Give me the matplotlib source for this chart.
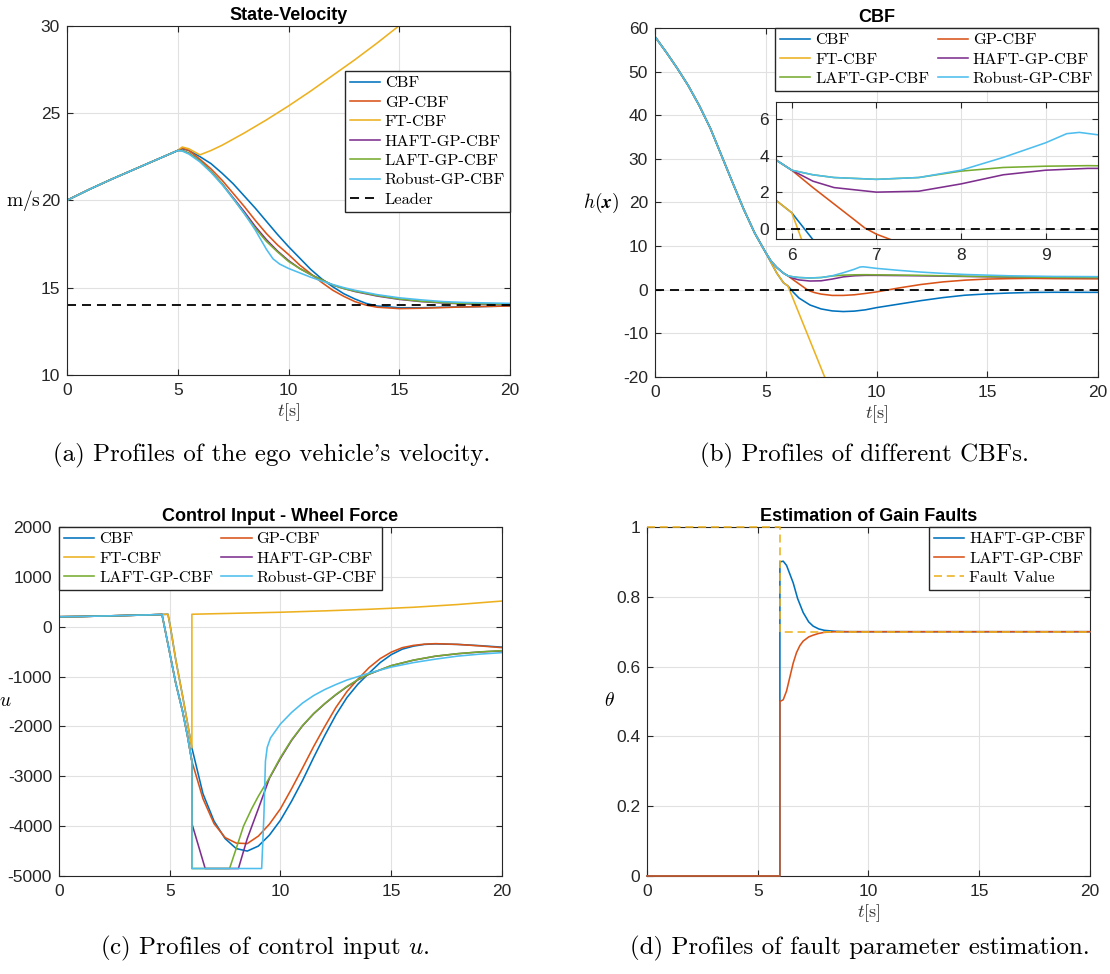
import matplotlib
matplotlib.use('Agg')
import matplotlib.pyplot as plt

plt.rcParams['font.family'] = ['Liberation Sans', 'DejaVu Sans']
plt.rcParams['mathtext.fontset'] = 'cm'
plt.rcParams['axes.unicode_minus'] = False

# MATLAB default colours
C_BLUE = '#0072BD'
C_RED = '#D95319'
C_YEL = '#EDB120'
C_PUR = '#7E2F8E'
C_GRN = '#77AC30'
C_CYA = '#4DBEEE'

names = ['CBF', 'GP-CBF', 'FT-CBF', 'HAFT-GP-CBF', 'LAFT-GP-CBF', 'Robust-GP-CBF']
colors = [C_BLUE, C_RED, C_YEL, C_PUR, C_GRN, C_CYA]

# ---------------- (a) velocity ----------------
vel_rise_t = [0, 1, 2, 3, 4, 5]
vel_rise = [20, 20.62, 21.2, 21.75, 22.3, 22.85]

vel_cbf_t = [5.2, 5.5, 6, 6.5, 7, 7.5, 8, 8.5, 9, 9.5, 10, 10.5, 11, 11.5, 12, 12.5, 13, 13.5, 14, 15, 16, 17, 18, 20]
vel_cbf = [22.95, 22.85, 22.5, 22.1, 21.55, 20.95, 20.25, 19.55, 18.8, 18.05, 17.35, 16.7, 16.05, 15.5, 15.05, 14.65, 14.35, 14.1, 13.95, 13.85, 13.85, 13.88, 13.9, 13.95]
vel_gp_t = [5.2, 5.5, 6, 6.5, 7, 7.5, 8, 8.5, 9, 9.5, 10, 10.5, 11, 11.5, 12, 12.5, 13, 13.5, 14, 15, 16, 17, 18, 20]
vel_gp = [23.0, 22.85, 22.35, 21.8, 21.15, 20.4, 19.65, 18.85, 18.1, 17.45, 16.9, 16.3, 15.8, 15.3, 14.85, 14.5, 14.2, 14.0, 13.88, 13.8, 13.82, 13.86, 13.9, 13.95]
vel_ft_t = [5.2, 5.5, 6, 6.5, 7, 8, 9, 10, 11, 12, 13, 14, 15]
vel_ft = [23.05, 22.95, 22.6, 22.85, 23.15, 23.85, 24.6, 25.4, 26.25, 27.15, 28.05, 29.0, 30.0]
vel_haft_t = [5.2, 5.5, 6, 6.5, 7, 7.5, 8, 8.5, 9, 9.5, 10, 10.5, 11, 11.5, 12, 12.5, 13, 14, 15, 16, 17, 18, 20]
vel_haft = [22.85, 22.7, 22.25, 21.65, 20.95, 20.15, 19.35, 18.5, 17.75, 17.1, 16.55, 16.1, 15.75, 15.45, 15.15, 14.95, 14.78, 14.52, 14.33, 14.2, 14.12, 14.07, 14.03]
vel_laft_t = [5.2, 5.5, 6, 6.5, 7, 7.5, 8, 8.5, 9, 9.5, 10, 10.5, 11, 11.5, 12, 12.5, 13, 14, 15, 16, 17, 18, 20]
vel_laft = [22.85, 22.7, 22.25, 21.65, 20.95, 20.1, 19.25, 18.4, 17.65, 17.05, 16.5, 16.1, 15.75, 15.45, 15.15, 14.95, 14.8, 14.55, 14.35, 14.22, 14.14, 14.09, 14.05]
vel_rob_t = [5.2, 5.5, 6, 6.5, 7, 7.5, 8, 8.5, 9, 9.3, 9.6, 10, 10.5, 11, 11.5, 12, 12.5, 13, 14, 15, 16, 17, 18, 20]
vel_rob = [22.82, 22.65, 22.2, 21.6, 20.9, 20.1, 19.25, 18.3, 17.2, 16.65, 16.35, 16.1, 15.85, 15.6, 15.38, 15.18, 15.0, 14.85, 14.6, 14.42, 14.3, 14.2, 14.15, 14.1]
leader_speed = 14

# ---------------- (b) CBF ----------------
h_fall_t = [0, 0.5, 1, 1.5, 2, 2.5, 3, 3.5, 4, 4.5, 5]
h_fall = [58, 54.5, 50.8, 46.8, 42.2, 37.0, 30.8, 24.6, 18.5, 13.0, 8.5]
h_split_a_t = [5.25, 5.5, 5.8, 6]          # shared by GP/HAFT/LAFT/Robust
h_split_a = [6.5, 5.1, 3.8, 3.2]
h_split_b_t = [5.2, 5.5, 5.8, 6]           # shared by CBF/FT
h_split_b = [6.6, 3.8, 1.6, 0.87]

h_cbf_t = [6.25, 6.5, 7, 7.5, 8, 8.5, 9, 9.5, 10, 11, 12, 13, 14, 15, 16, 17, 18, 20]
h_cbf = [-0.6, -1.9, -3.5, -4.4, -4.85, -5.0, -4.9, -4.6, -4.1, -3.3, -2.5, -1.8, -1.25, -0.95, -0.75, -0.62, -0.58, -0.6]
h_gp_t = [6.25, 6.5, 6.75, 6.86, 7.0, 7.2, 7.5, 8, 8.5, 9, 9.5, 10, 10.5, 11, 12, 13, 14, 15, 16, 17, 18, 20]
h_gp = [2.25, 1.35, 0.45, 0.05, -0.3, -0.65, -1.0, -1.3, -1.3, -1.15, -0.85, -0.5, -0.05, 0.4, 1.2, 1.8, 2.2, 2.45, 2.55, 2.6, 2.55, 2.5]
h_ft_t = [7.7]
h_ft = [-20.5]
h_haft_t = [6.25, 6.5, 7, 7.5, 8, 8.5, 9, 9.5, 10, 11, 12, 14, 16, 18, 20]
h_haft = [2.6, 2.25, 2.0, 2.05, 2.45, 2.95, 3.2, 3.3, 3.3, 3.25, 3.2, 3.05, 2.9, 2.85, 2.8]
h_laft_t = [6.25, 6.5, 7, 7.5, 8, 8.5, 9, 9.5, 10, 12, 14, 16, 18, 20]
h_laft = [2.95, 2.8, 2.7, 2.8, 3.15, 3.35, 3.42, 3.45, 3.42, 3.3, 3.1, 2.95, 2.85, 2.8]
h_rob_t = [6.25, 6.5, 7, 7.5, 8, 8.5, 9, 9.25, 9.4, 9.6, 10, 11, 12, 13, 14, 15, 16, 18, 20]
h_rob = [2.95, 2.8, 2.7, 2.8, 3.2, 3.9, 4.7, 5.2, 5.27, 5.15, 4.9, 4.45, 4.05, 3.75, 3.5, 3.35, 3.2, 3.05, 3.0]

# ---------------- (c) control input ----------------
u_pre_t = [0, 1, 2, 3, 4, 4.65]
u_pre = [200, 205, 215, 225, 237, 245]
u_drop_a_t = [4.82, 4.97, 5.27, 5.58, 5.8, 6.0]      # early braking group
u_drop_a = [-130, -460, -1130, -1700, -2190, -2700]
u_drop_b_t = [4.92, 5.05, 5.27, 5.58, 5.8, 6.0]      # CBF / FT-CBF
u_drop_b = [250, -60, -660, -1390, -1930, -2430]

u_cbf_t = [6.5, 7, 7.5, 8, 8.5, 9, 9.5, 10, 10.5, 11, 11.5, 12, 12.5, 13, 13.5, 14, 14.5, 15, 15.5, 16, 16.5, 17, 18, 19, 20]
u_cbf = [-3350, -3900, -4250, -4450, -4500, -4400, -4180, -3880, -3500, -3080, -2620, -2180, -1770, -1420, -1150, -930, -720, -560, -450, -390, -355, -345, -355, -380, -410]
u_gp_t = [6.5, 7, 7.5, 8, 8.5, 9, 9.5, 10, 10.5, 11, 11.5, 12, 12.5, 13, 13.5, 14, 14.5, 15, 15.5, 16, 16.5, 17, 18, 19, 20]
u_gp = [-3450, -3950, -4230, -4340, -4350, -4200, -3960, -3650, -3250, -2830, -2400, -2000, -1620, -1300, -1050, -820, -640, -510, -420, -375, -350, -340, -355, -385, -420]
u_ft_t = [6.0, 8, 10, 12, 14, 16, 18, 20]
u_ft = [250, 270, 290, 318, 350, 390, 445, 515]
u_haft_t = [6.0, 6.3, 6.6, 8.1, 8.5, 9, 9.5, 10, 10.5, 11, 11.5, 12, 12.5, 13, 13.5, 14, 15, 16, 17, 18, 19, 20]
u_haft = [-3950, -4400, -4850, -4850, -4250, -3650, -3040, -2640, -2280, -1985, -1745, -1545, -1365, -1205, -1065, -952, -782, -672, -592, -542, -507, -485]
u_laft_t = [6.0, 7.7, 8.0, 8.33, 8.7, 9, 9.5, 10, 10.5, 11, 11.5, 12, 12.5, 13, 13.5, 14, 15, 16, 17, 18, 19, 20]
u_laft = [-4850, -4850, -4450, -4000, -3650, -3400, -3030, -2620, -2270, -1980, -1740, -1540, -1360, -1200, -1060, -950, -780, -670, -590, -540, -505, -480]
u_rob_t = [6.0, 9.15, 9.25, 9.32, 9.4, 9.55, 10, 10.5, 11, 11.5, 12, 12.5, 13, 13.5, 14, 14.5, 15, 16, 17, 18, 19, 20]
u_rob = [-4850, -4850, -3800, -2700, -2420, -2230, -1950, -1720, -1530, -1380, -1260, -1160, -1070, -1000, -930, -870, -810, -720, -650, -590, -550, -520]

# ---------------- (d) fault estimation ----------------
fault_t = [0, 6, 6, 20]
fault_val = [1, 1, 0.7, 0.7]
th_haft_t = [0, 6, 6, 6.15, 6.3, 6.45, 6.6, 6.8, 7.05, 7.3, 7.5, 7.75, 8.0, 8.5, 9, 20]
th_haft = [0, 0, 0.9, 0.902, 0.89, 0.865, 0.84, 0.795, 0.755, 0.728, 0.716, 0.708, 0.704, 0.701, 0.7, 0.7]
th_laft_t = [0, 6, 6, 6.15, 6.3, 6.45, 6.6, 6.75, 6.9, 7.05, 7.3, 7.5, 7.75, 8.0, 8.5, 9, 20]
th_laft = [0, 0, 0.5, 0.505, 0.53, 0.57, 0.61, 0.64, 0.66, 0.673, 0.685, 0.69, 0.695, 0.698, 0.7, 0.7, 0.7]

LW = 1.15
LEG = dict(prop={'family': 'cmr10', 'size': 11.8}, fancybox=False, framealpha=1,
           edgecolor='#262626', handlelength=1.85, handletextpad=0.3,
           labelspacing=0.3, borderpad=0.3, borderaxespad=0, columnspacing=0.5)


def matlab_style(ax):
    ax.grid(True, color='#e1e1e1', linewidth=0.8)
    ax.set_axisbelow(True)
    ax.tick_params(direction='in', top=True, right=True, length=4, width=0.8,
                   colors='#262626', labelsize=12.5)
    ax.tick_params(axis='x', pad=6)
    ax.tick_params(axis='y', pad=5)
    for s in ax.spines.values():
        s.set_color('#262626')
        s.set_linewidth(0.8)


def ylab(ax, text, x):
    ax.set_ylabel(text, rotation=0, fontsize=14, ha='right', va='center')
    ax.yaxis.set_label_coords(x, 0.5)


def xlab(ax):
    ax.set_xlabel(r'$t[\mathrm{s}]$', fontsize=13, va='center', color='#303030')
    ax.xaxis.set_label_coords(0.5, -0.105)


def row_major(ax, ncol):
    # matplotlib fills legend columns first; reorder so rows read left to right
    handles, labels = ax.get_legend_handles_labels()
    order = [i for c in range(ncol) for i in range(c, len(handles), ncol)]
    return [handles[i] for i in order], [labels[i] for i in order]


fig = plt.figure(figsize=(11.1, 9.74), dpi=100)
ax_a = fig.add_axes([0.06036, 0.61499, 0.39910, 0.35873])
ax_b = fig.add_axes([0.59009, 0.61294, 0.39910, 0.35832])
ax_c = fig.add_axes([0.05315, 0.10062, 0.39910, 0.35832])
ax_d = fig.add_axes([0.58288, 0.10062, 0.39910, 0.35832])

# (a)
vel_t = [vel_cbf_t, vel_gp_t, vel_ft_t, vel_haft_t, vel_laft_t, vel_rob_t]
vel_v = [vel_cbf, vel_gp, vel_ft, vel_haft, vel_laft, vel_rob]
for name, c, tt, vv in zip(names, colors, vel_t, vel_v):
    ax_a.plot(vel_rise_t + tt, vel_rise + vv, color=c, lw=LW, label=name)
ax_a.axhline(leader_speed, color='k', lw=1.3, ls=(0, (5, 3.3)), label='Leader')
ax_a.set_xlim(0, 20)
ax_a.set_ylim(10, 30)
ax_a.set_xticks([0, 5, 10, 15, 20])
ax_a.set_yticks([10, 15, 20, 25, 30])
matlab_style(ax_a)
ax_a.set_title('State-Velocity', fontweight='bold', fontsize=13, pad=4)
ylab(ax_a, r'$\mathrm{m/s}$', -0.058)
xlab(ax_a)
ax_a.legend(loc='upper right', bbox_to_anchor=(1, 0.870), **LEG)

# (b)
h_t = [h_cbf_t, h_gp_t, h_ft_t, h_haft_t, h_laft_t, h_rob_t]
h_v = [h_cbf, h_gp, h_ft, h_haft, h_laft, h_rob]
late = ['CBF', 'FT-CBF']


def draw_h(ax, with_label):
    for name, c, tt, vv in zip(names, colors, h_t, h_v):
        if name in late:
            st, sv = h_split_b_t, h_split_b
        else:
            st, sv = h_split_a_t, h_split_a
        ax.plot(h_fall_t + st + tt, h_fall + sv + vv, color=c, lw=LW,
                label=name if with_label else None)
    ax.axhline(0, color='k', lw=1.3, ls=(0, (5, 3.3)))


draw_h(ax_b, True)
ax_b.set_xlim(0, 20)
ax_b.set_ylim(-20, 60)
ax_b.set_xticks([0, 5, 10, 15, 20])
ax_b.set_yticks(range(-20, 61, 10))
matlab_style(ax_b)
ax_b.set_title('CBF', fontweight='bold', fontsize=13, pad=4)
ylab(ax_b, r'$h(\boldsymbol{x})$', -0.08)
xlab(ax_b)
hb, lb = row_major(ax_b, 2)
ax_b.legend(hb, lb, loc='upper right', bbox_to_anchor=(1, 1), ncol=2, **LEG)

axin = ax_b.inset_axes([0.2725, 0.3946, 0.7275, 0.3942])
draw_h(axin, False)
axin.set_xlim(5.81, 9.62)
axin.set_ylim(-0.58, 6.95)
axin.set_xticks([6, 7, 8, 9])
axin.set_yticks([0, 2, 4, 6])
matlab_style(axin)

# (c)
u_t = [u_cbf_t, u_gp_t, u_ft_t, u_haft_t, u_laft_t, u_rob_t]
u_v = [u_cbf, u_gp, u_ft, u_haft, u_laft, u_rob]
for name, c, tt, vv in zip(names, colors, u_t, u_v):
    if name in late:
        dt, dv = u_drop_b_t, u_drop_b
    else:
        dt, dv = u_drop_a_t, u_drop_a
    ax_c.plot(u_pre_t + dt + tt, u_pre + dv + vv, color=c, lw=LW, label=name)
ax_c.set_xlim(0, 20)
ax_c.set_ylim(-5000, 2000)
ax_c.set_xticks([0, 5, 10, 15, 20])
ax_c.set_yticks(range(-5000, 2001, 1000))
matlab_style(ax_c)
ax_c.set_title('Control Input - Wheel Force', fontweight='bold', fontsize=13, pad=4)
ylab(ax_c, r'$u$', -0.106)
hc, lc = row_major(ax_c, 2)
ax_c.legend(hc, lc, loc='upper left', bbox_to_anchor=(0, 1), ncol=2, **LEG)

# (d)
ax_d.plot(th_haft_t, th_haft, color=C_BLUE, lw=LW, label='HAFT-GP-CBF',
          clip_on=False, zorder=3)
ax_d.plot(th_laft_t, th_laft, color=C_RED, lw=LW, label='LAFT-GP-CBF',
          clip_on=False, zorder=3)
ax_d.plot(fault_t, fault_val, color=C_YEL, lw=LW, ls=(0, (5, 3)), label='Fault Value',
          clip_on=False, zorder=3)
ax_d.set_xlim(0, 20)
ax_d.set_ylim(0, 1)
ax_d.set_xticks([0, 5, 10, 15, 20])
ax_d.set_yticks([0, 0.2, 0.4, 0.6, 0.8, 1])
ax_d.set_yticklabels(['0', '0.2', '0.4', '0.6', '0.8', '1'])
matlab_style(ax_d)
ax_d.set_title('Estimation of Gain Faults', fontweight='bold', fontsize=13, pad=4)
ylab(ax_d, r'$\theta$', -0.073)
xlab(ax_d)
ax_d.legend(loc='upper right', bbox_to_anchor=(1, 1), **LEG)

# captions
cap = dict(family='cmr10', fontsize=18, ha='center', va='center')
fig.text(272 / 1110, 1 - 455 / 974, "(a) Profiles of the ego vehicle's velocity.", **cap)
fig.text(864 / 1110, 1 - 455 / 974, '(b) Profiles of different CBFs.', **cap)
fig.text(265 / 1110, 1 - 948 / 974, r'(c) Profiles of control input $u$.', **cap)
fig.text(860 / 1110, 1 - 948 / 974, '(d) Profiles of fault parameter estimation.', **cap)

fig.savefig('out.png', dpi=100)
